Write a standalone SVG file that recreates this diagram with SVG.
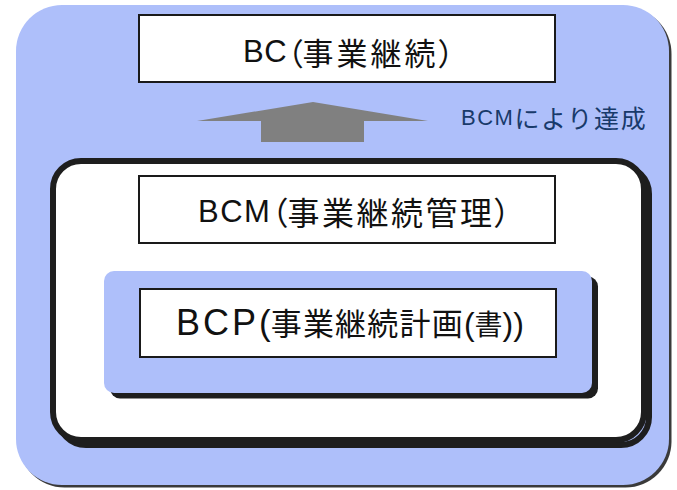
<svg xmlns="http://www.w3.org/2000/svg" width="677" height="490" viewBox="0 0 677 490">
<style>
.blue{fill:#aebffa}
.shadow{fill:#1e1e1e}
.box{fill:#ffffff;stroke:#1a1a1a;stroke-width:2}
.lat{font-family:"Liberation Sans","Noto Sans CJK JP",sans-serif;fill:#111111}
.j{font-family:"Noto Sans CJK JP","Noto Sans CJK SC",sans-serif}
.p{font-feature-settings:"palt" 1}
.lbl{fill:#183a6a}
</style>
<rect width="677" height="490" fill="#ffffff"/>
<g id="bcm-area">
  <rect x="18.5" y="7.5" width="653" height="480" rx="46" fill="#3a3a3a"/>
  <rect x="16" y="5" width="653" height="480" rx="46" class="blue"/>
</g>
<g id="bcm-frame">
  <rect x="58" y="166" width="591" height="279" rx="28" fill="none" stroke="#1e1e1e" stroke-width="6"/>
  <rect x="53" y="161" width="591" height="279" rx="28" fill="#ffffff" stroke="#1e1e1e" stroke-width="6"/>
</g>
<g id="bcp-area">
  <rect x="110" y="276.5" width="488" height="122" rx="10" class="shadow"/>
  <rect x="104" y="271" width="488" height="122" rx="10" class="blue"/>
</g>
<g id="connectors">
  <polygon points="197,121 313,102 428,121 364,121 364,142 261,142 261,121" fill="#808080"/>
</g>
<g id="bc">
  <rect x="139" y="15" width="416" height="67" class="box"/>
  <text class="lat" x="243" y="62" font-size="31"><tspan letter-spacing="0.5">BC</tspan><tspan class="j p" y="64.5" font-size="31">（</tspan><tspan class="j" font-size="31" letter-spacing="3">事業継続</tspan><tspan class="j p" font-size="31">）</tspan></text>
</g>
<g id="bcm-label">
  <text class="lat lbl" x="461" y="125" font-size="22"><tspan letter-spacing="1.5">BCM</tspan><tspan class="j" y="128" font-size="25" letter-spacing="1.7">により達成</tspan></text>
</g>
<g id="bcm">
  <rect x="139" y="176" width="416" height="67" class="box"/>
  <text class="lat" x="198" y="222" font-size="31"><tspan letter-spacing="1.5">BCM</tspan><tspan class="j p" y="224.5" font-size="32">（</tspan><tspan class="j" font-size="32" letter-spacing="2.5">事業継続管理</tspan><tspan class="j p" font-size="32">）</tspan></text>
</g>
<g id="bcp">
  <rect x="140" y="289" width="416" height="68" class="box"/>
  <text class="lat" x="176" y="335" font-size="36"><tspan letter-spacing="3">BCP</tspan><tspan font-size="35">(</tspan><tspan class="j" font-size="31" letter-spacing="1.2">事業継続計画</tspan><tspan font-size="32">(</tspan><tspan class="j" font-size="28">書</tspan><tspan font-size="32">))</tspan></text>
</g>
</svg>
